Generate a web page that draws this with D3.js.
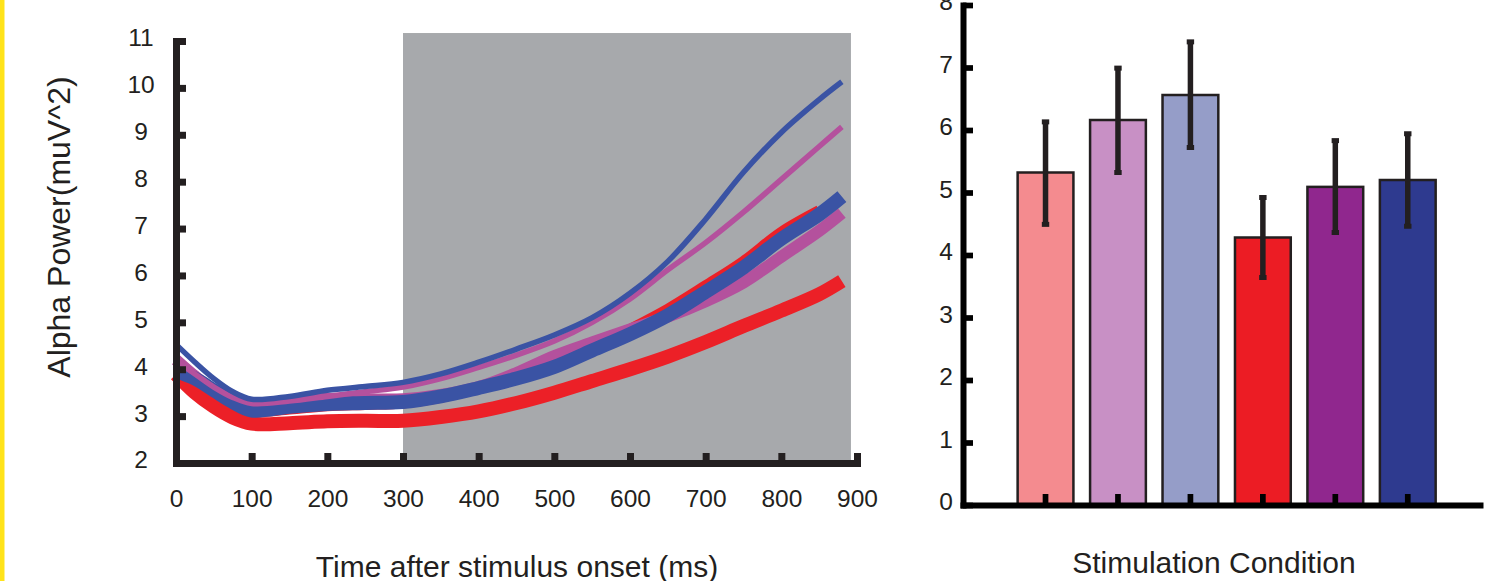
<!DOCTYPE html>
<html>
<head>
<meta charset="utf-8">
<title>Alpha power and stimulation condition</title>
<script src="https://cdn.jsdelivr.net/npm/d3@7"></script>
<style>
  body { margin: 0; background: #fff; }
  text { font-family: "Liberation Sans", Arial, Helvetica, sans-serif; fill: #231f20; }
</style>
</head>
<body>
<div id="chart"></div>
<script>
// ---- data: left panel (alpha power over time) ----
var times = [0, 25, 50, 75, 100, 150, 200, 250, 300, 350, 400, 450, 500, 550, 600, 650, 700, 750, 800, 850, 880];
var bottomRed    = [3.89, 3.5, 3.2, 2.97, 2.84, 2.85, 2.89, 2.9, 2.9, 2.98, 3.1, 3.28, 3.5, 3.75, 4.0, 4.27, 4.58, 4.92, 5.25, 5.6, 5.88];
var middleRed    = [3.9, 3.7, 3.45, 3.22, 3.1, 3.15, 3.22, 3.25, 3.28, 3.4, 3.6, 3.82, 4.07, 4.45, 4.85, 5.28, 5.78, 6.3, 6.92, 7.38, null];
var thickMagenta = [4.2, 3.85, 3.55, 3.35, 3.25, 3.3, 3.37, 3.36, 3.36, 3.45, 3.62, 3.92, 4.28, 4.57, 4.85, 5.12, 5.45, 5.85, 6.4, 6.95, 7.33];
var thickBlue    = [3.96, 3.8, 3.55, 3.3, 3.12, 3.2, 3.26, 3.28, 3.3, 3.42, 3.6, 3.8, 4.05, 4.4, 4.75, 5.15, 5.65, 6.17, 6.78, 7.3, 7.68];
var thinMagenta  = [4.17, 3.9, 3.62, 3.4, 3.27, 3.32, 3.42, 3.52, 3.62, 3.8, 4.04, 4.3, 4.6, 5.0, 5.5, 6.12, 6.7, 7.35, 8.05, 8.75, 9.17];
var thinBlue     = [4.53, 4.15, 3.8, 3.52, 3.36, 3.42, 3.55, 3.63, 3.72, 3.9, 4.15, 4.43, 4.73, 5.1, 5.62, 6.3, 7.2, 8.2, 9.05, 9.75, 10.13];
var timeTicks  = [0, 100, 200, 300, 400, 500, 600, 700, 800, 900];
var powerTicks = [2, 3, 4, 5, 6, 7, 8, 9, 10, 11];
var shadeWindow = [300, 892];   // ms, grey analysis window
var shadeTop = 11.17;

// ---- data: right panel (bars with error bars) ----
var conditions = ["1", "2", "3", "4", "5", "6"];
var means     = [5.32, 6.16, 6.56, 4.28, 5.09, 5.2];
var errHigh   = [6.13, 6.99, 7.41, 4.92, 5.83, 5.94];
var errLow    = [4.49, 5.32, 5.72, 3.64, 4.36, 4.46];
var barTicks  = [0, 1, 2, 3, 4, 5, 6, 7, 8];

// ---- styles ----
var ink = "#231f20";
var series = [
  {values: bottomRed,    color: "#ec2027", width: 14},
  {values: middleRed,    color: "#ec2027", width: 11},
  {values: thickMagenta, color: "#b4519d", width: 12},
  {values: thickBlue,    color: "#3a53a4", width: 14},
  {values: thinMagenta,  color: "#b4519d", width: 5.5},
  {values: thinBlue,     color: "#3a53a4", width: 5.5}
];
var barColors = ["#f48b8f", "#c890c5", "#959dc8", "#ec1c24", "#90278e", "#2e3a8f"];

var svg = d3.select("#chart").append("svg")
    .attr("width", 1498)
    .attr("height", 581);

svg.append("rect").attr("width", 1498).attr("height", 581).attr("fill", "#fff");
// yellow page edge
svg.append("rect").attr("x", 0).attr("y", 0).attr("width", 4.5).attr("height", 581).attr("fill", "#ffe31a");

// ================= left panel =================
var x = d3.scaleLinear().domain([0, 900]).range([176, 857]);
var y = d3.scaleLinear().domain([2, 11]).range([463, 41]);

var left = svg.append("g");

left.append("rect")
    .attr("x", x(shadeWindow[0]))
    .attr("width", x(shadeWindow[1]) - x(shadeWindow[0]))
    .attr("y", y(shadeTop))
    .attr("height", y(2) - y(shadeTop))
    .attr("fill", "#a7a9ac");

var line = d3.line()
    .defined(function(d) { return d != null; })
    .x(function(d, i) { return x(times[i]); })
    .y(function(d) { return y(d); })
    .curve(d3.curveCatmullRom.alpha(0.5));

series.forEach(function(s) {
  left.append("path")
      .attr("d", line(s.values))
      .attr("fill", "none")
      .attr("stroke", s.color)
      .attr("stroke-width", s.width)
      .attr("stroke-linecap", "butt")
      .attr("stroke-linejoin", "round");
});

// y axis
var yAxisL = left.append("g")
    .attr("transform", "translate(" + x(0) + ",0)")
    .call(d3.axisLeft(y).tickValues(powerTicks).tickSize(-10).tickSizeOuter(0).tickFormat(d3.format("d")));
// x axis
var xAxisL = left.append("g")
    .attr("transform", "translate(0," + y(2) + ")")
    .call(d3.axisBottom(x).tickValues(timeTicks).tickSize(-10).tickSizeOuter(0));

[yAxisL, xAxisL].forEach(function(a) {
  a.select(".domain").attr("stroke", ink).attr("stroke-width", 7).attr("stroke-linecap", "square");
  a.selectAll(".tick line").attr("stroke", ink).attr("stroke-width", 7);
  a.selectAll(".tick text").attr("font-size", 24.5).attr("font-family", null).attr("fill", ink);
});
yAxisL.selectAll(".tick text").attr("x", -35).attr("dy", "0.2em").attr("text-anchor", "middle");
xAxisL.selectAll(".tick text").attr("y", 27);

left.append("text")
    .attr("x", 517).attr("y", 577)
    .attr("text-anchor", "middle")
    .attr("font-size", 30)
    .text("Time after stimulus onset (ms)");

left.append("text")
    .attr("transform", "translate(70,227) rotate(-90)")
    .attr("text-anchor", "middle")
    .attr("font-size", 32)
    .text("Alpha Power(muV^2)");

// ================= right panel =================
var xb = d3.scaleBand().domain(conditions).range([963, 1480])
    .paddingInner(0.23).paddingOuter(0.683).align(0.552);
var yb = d3.scaleLinear().domain([0, 8]).range([505, 5]);

var right = svg.append("g");

right.selectAll(".bar")
    .data(means)
  .enter().append("rect")
    .attr("class", "bar")
    .attr("x", function(d, i) { return xb(conditions[i]); })
    .attr("width", xb.bandwidth())
    .attr("y", function(d) { return yb(d); })
    .attr("height", function(d) { return yb(0) - yb(d); })
    .attr("fill", function(d, i) { return barColors[i]; })
    .attr("stroke", ink)
    .attr("stroke-width", 2.5);

var cx = function(i) { return xb(conditions[i]) + xb.bandwidth() / 2; };

right.selectAll(".err")
    .data(means)
  .enter().append("line")
    .attr("class", "err")
    .attr("x1", function(d, i) { return cx(i); })
    .attr("x2", function(d, i) { return cx(i); })
    .attr("y1", function(d, i) { return yb(errHigh[i]); })
    .attr("y2", function(d, i) { return yb(errLow[i]); })
    .attr("stroke", ink)
    .attr("stroke-width", 5.5);

[errHigh, errLow].forEach(function(arr) {
  right.selectAll(null)
      .data(arr)
    .enter().append("rect")
      .attr("x", function(d, i) { return cx(i) - 3.7; })
      .attr("y", function(d) { return yb(d) - 2.5; })
      .attr("width", 7.4)
      .attr("height", 5)
      .attr("fill", ink);
});

var yAxisR = right.append("g")
    .attr("transform", "translate(963,0)")
    .call(d3.axisLeft(yb).tickValues(barTicks).tickSize(-10).tickSizeOuter(0).tickFormat(d3.format("d")));
var xAxisR = right.append("g")
    .attr("transform", "translate(0," + yb(0) + ")")
    .call(d3.axisBottom(xb).tickSize(-11).tickSizeOuter(0).tickFormat(""));

[yAxisR, xAxisR].forEach(function(a) {
  a.select(".domain").attr("stroke", "#000").attr("stroke-width", 6).attr("stroke-linecap", "square");
  a.selectAll(".tick line").attr("stroke", "#000").attr("stroke-width", 5.7);
  a.selectAll(".tick text").attr("font-size", 24.5).attr("font-family", null).attr("fill", "#000");
});
yAxisR.selectAll(".tick text").attr("x", -17).attr("dy", "0.2em").attr("text-anchor", "middle");

right.append("text")
    .attr("x", 1214).attr("y", 573)
    .attr("text-anchor", "middle")
    .attr("font-size", 30)
    .text("Stimulation Condition");
</script>
</body>
</html>
